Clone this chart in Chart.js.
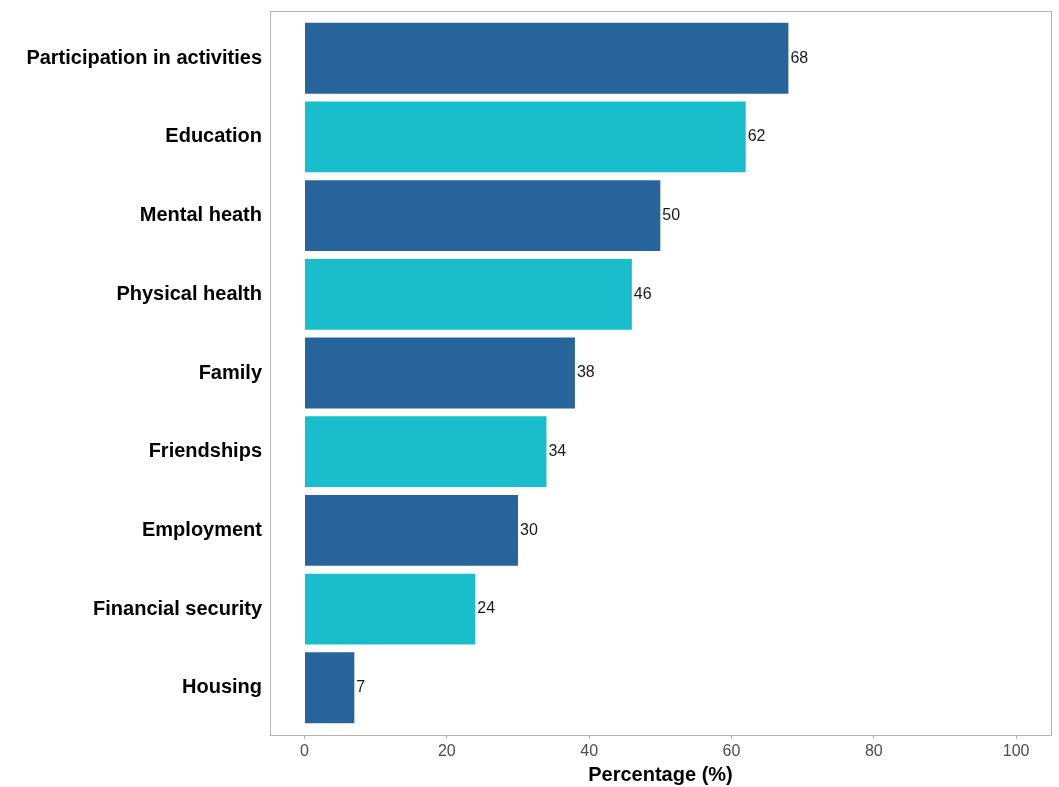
<!DOCTYPE html>
<html>
<head>
<meta charset="utf-8">
<script src="https://cdn.jsdelivr.net/npm/chart.js@4"></script>
<style>
  html, body { margin: 0; padding: 0; background: #fff; }
  #wrap { width: 1059px; height: 787px; }
</style>
</head>
<body>
<div id="wrap"><canvas id="chart"></canvas></div>
<script>
const categories = ['Participation in activities', 'Education', 'Mental heath', 'Physical health',
  'Family', 'Friendships', 'Employment', 'Financial security', 'Housing'];
const values = [68, 62, 50, 46, 38, 34, 30, 24, 7];
const xTicks = [0, 20, 40, 60, 80, 100];

const darkBlue = '#27649b';
const teal = '#1abdcb';
const barColors = categories.map((c, i) => i % 2 === 0 ? darkBlue : teal);

const FONT = '"Liberation Sans", Arial, Helvetica, sans-serif';

// value labels just past the end of each bar
const valueLabels = {
    id: 'valueLabels',
    afterDatasetsDraw(chart) {
        const ctx = chart.ctx;
        const meta = chart.getDatasetMeta(0);
        ctx.save();
        ctx.font = '16px ' + FONT;
        ctx.fillStyle = '#1a1a1a';
        ctx.textBaseline = 'middle';
        ctx.textAlign = 'left';
        meta.data.forEach((bar, i) => {
            ctx.fillText(values[i], bar.x + 2, bar.y);
        });
        ctx.restore();
    }
};

// grey panel border round the plot area
const panelBorder = {
    id: 'panelBorder',
    afterDraw(chart) {
        const a = chart.chartArea;
        const ctx = chart.ctx;
        ctx.save();
        ctx.strokeStyle = '#b3b3b3';
        ctx.lineWidth = 1;
        ctx.strokeRect(Math.round(a.left) + 0.5, Math.round(a.top) + 0.5,
            Math.round(a.right - a.left), Math.round(a.bottom - a.top));
        ctx.restore();
    }
};

new Chart(document.querySelector('#chart'), {
    type: 'bar',
    data: {
        datasets: [{
            data: values.map((v, i) => ({ x: v, y: i })),
            backgroundColor: barColors,
            borderWidth: 0,
            barPercentage: 0.9,
            categoryPercentage: 1.0
        }]
    },
    options: {
        indexAxis: 'y',
        responsive: true,
        maintainAspectRatio: false,
        animation: false,
        layout: { padding: { top: 11, right: 8, left: 0, bottom: 0 } },
        plugins: { legend: { display: false }, tooltip: { enabled: false } },
        scales: {
            x: {
                type: 'linear',
                min: -4.85,
                max: 104.9,
                afterBuildTicks: (scale) => { scale.ticks = xTicks.map(v => ({ value: v })); },
                afterFit: (scale) => { scale.height = 52; scale.paddingLeft = 0; scale.paddingRight = 0; },
                border: { display: false },
                grid: { drawOnChartArea: false, tickLength: 4, color: '#b3b3b3' },
                ticks: { padding: 3, color: '#4d4d4d', font: { family: FONT, size: 16 } },
                title: {
                    display: true,
                    text: 'Percentage (%)',
                    color: '#000',
                    padding: 0,
                    font: { family: FONT, size: 20, weight: 'bold' }
                }
            },
            y: {
                type: 'linear',
                reverse: true,
                offset: false,
                min: -0.6,
                max: 8.6,
                afterBuildTicks: (scale) => { scale.ticks = categories.map((c, i) => ({ value: i })); },
                afterFit: (scale) => { scale.width = 270; scale.paddingTop = 0; scale.paddingBottom = 0; },
                border: { display: false },
                grid: { display: false, drawTicks: false },
                ticks: {
                    padding: 8,
                    color: '#000',
                    font: { family: FONT, size: 20, weight: 'bold' },
                    callback: (v) => categories[v]
                }
            }
        }
    },
    plugins: [valueLabels, panelBorder]
});
</script>
</body>
</html>
